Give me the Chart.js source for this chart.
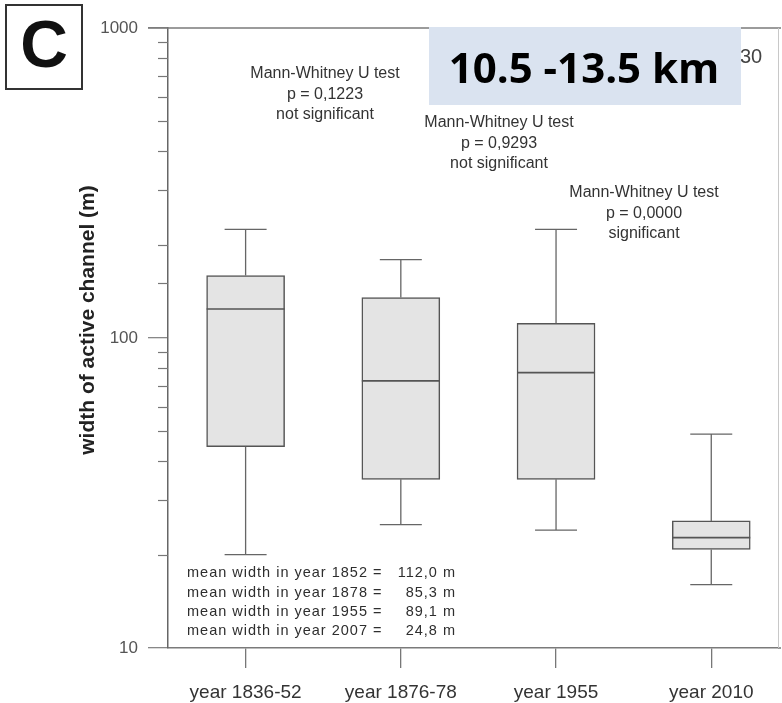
<!DOCTYPE html>
<html>
<head>
<meta charset="utf-8">
<script src="https://cdn.jsdelivr.net/npm/chart.js@4.4.1/dist/chart.umd.min.js"></script>
<style>
  html, body { margin: 0; padding: 0; background: #ffffff; }
  #wrap { width: 782px; height: 703px; }
</style>
</head>
<body>
<div id="wrap"><canvas id="c" width="782" height="703"></canvas></div>
<script>
// ---- data ----
const categories = ['year 1836-52', 'year 1876-78', 'year 1955', 'year 2010'];
const whiskerLow  = [20, 25, 24, 16];
const q1          = [44.6, 35, 35, 20.8];
const median      = [124, 72.7, 77.3, 22.7];
const q3          = [159, 135, 111.5, 25.7];
const whiskerHigh = [224, 179, 224, 49];
const yTickLabels = [10, 100, 1000];

const testLines = [
  ['Mann-Whitney U test', 'p = 0,1223', 'not significant'],
  ['Mann-Whitney U test', 'p = 0,9293', 'not significant'],
  ['Mann-Whitney U test', 'p = 0,0000', 'significant']
];
const meanLabels = ['mean width in year 1852 =', 'mean width in year 1878 =', 'mean width in year 1955 =', 'mean width in year 2007 ='];
const meanValues = ['112,0 m', '85,3 m', '89,1 m', '24,8 m'];
const panelLetter = 'C';
const rangeLabel = '10.5 -13.5 km';
const hiddenLabel = '30';
const yTitle = 'width of active channel (m)';

const FONT = '"Liberation Sans", Arial, sans-serif';

const boxPlugin = {
  id: 'boxExtras',
  afterDatasetsDraw(chart) {
    const ctx = chart.ctx, x = chart.scales.x, y = chart.scales.y;
    ctx.save();
    // minor ticks on y-axis
    ctx.strokeStyle = '#777';
    ctx.lineWidth = 1.2;
    y.ticks.forEach(t => {
      if (yTickLabels.includes(t.value)) return;
      const py = Math.round(y.getPixelForValue(t.value)) + 0.5;
      ctx.beginPath(); ctx.moveTo(x.left - 10, py); ctx.lineTo(x.left, py); ctx.stroke();
    });
    // frame lines
    ctx.strokeStyle = '#7a7a7a';
    ctx.lineWidth = 1.5;
    ctx.beginPath(); ctx.moveTo(x.left - 20, chart.chartArea.top); ctx.lineTo(781, chart.chartArea.top); ctx.stroke();
    ctx.beginPath(); ctx.moveTo(x.right, chart.chartArea.bottom); ctx.lineTo(781, chart.chartArea.bottom); ctx.stroke();
    ctx.strokeStyle = '#c8c8c8';
    ctx.lineWidth = 1;
    ctx.beginPath(); ctx.moveTo(x.right + 0.5, chart.chartArea.top); ctx.lineTo(x.right + 0.5, chart.chartArea.bottom); ctx.stroke();

    // whiskers and medians
    const capHalf = 21, boxHalf = 39;
    categories.forEach((c, i) => {
      const xc = x.getPixelForValue(i + 1);
      const yHi = y.getPixelForValue(whiskerHigh[i]);
      const yLo = y.getPixelForValue(whiskerLow[i]);
      const yQ1 = y.getPixelForValue(q1[i]);
      const yQ3 = y.getPixelForValue(q3[i]);
      const yMed = y.getPixelForValue(median[i]);
      ctx.strokeStyle = '#666';
      ctx.lineWidth = 1.3;
      ctx.beginPath();
      ctx.moveTo(xc, yQ3); ctx.lineTo(xc, yHi);
      ctx.moveTo(xc - capHalf, yHi); ctx.lineTo(xc + capHalf, yHi);
      ctx.moveTo(xc, yQ1); ctx.lineTo(xc, yLo);
      ctx.moveTo(xc - capHalf, yLo); ctx.lineTo(xc + capHalf, yLo);
      ctx.stroke();
      ctx.strokeStyle = '#555';
      ctx.lineWidth = 1.6;
      ctx.beginPath();
      ctx.moveTo(xc - boxHalf, yMed); ctx.lineTo(xc + boxHalf, yMed);
      ctx.stroke();
    });
    ctx.restore();
  },
  afterDraw(chart) {
    const ctx = chart.ctx;
    ctx.save();
    // panel letter box
    ctx.strokeStyle = '#333';
    ctx.lineWidth = 2;
    ctx.strokeRect(6, 5, 76, 84);
    ctx.fillStyle = '#111';
    ctx.font = 'bold 66px ' + FONT;
    ctx.textAlign = 'center';
    ctx.textBaseline = 'middle';
    ctx.fillText(panelLetter, 44, 49);

    // test annotations
    ctx.fillStyle = '#333';
    ctx.font = '16px ' + FONT;
    const ax = [325, 499, 644], ay = [74, 123, 193];
    testLines.forEach((lines, k) => {
      lines.forEach((s, j) => ctx.fillText(s, ax[k], ay[k] + j * 20.5));
    });

    // partially hidden label
    ctx.textAlign = 'left';
    ctx.fillStyle = '#444';
    ctx.font = '20px ' + FONT;
    ctx.fillText(hiddenLabel, 740, 57);

    // range box
    ctx.fillStyle = '#dae3f0';
    ctx.fillRect(429, 27, 312, 78);
    ctx.fillStyle = '#000';
    ctx.font = 'bold 42px "Open Sans", Lato, sans-serif';
    ctx.textAlign = 'center';
    ctx.textBaseline = 'alphabetic';
    ctx.fillText(rangeLabel, 584, 83);

    // mean width lines
    ctx.fillStyle = '#2e2e2e';
    ctx.font = '14.5px ' + FONT;
    ctx.textBaseline = 'middle';
    try { ctx.letterSpacing = '1px'; } catch (e) {}
    const my = [573, 593, 612, 631];
    meanLabels.forEach((s, i) => {
      ctx.textAlign = 'left';
      ctx.fillText(s, 187, my[i]);
      ctx.textAlign = 'right';
      ctx.fillText(meanValues[i], 456, my[i]);
    });
    try { ctx.letterSpacing = '0px'; } catch (e) {}

    // y-axis title
    ctx.translate(88, 320);
    ctx.rotate(-Math.PI / 2);
    ctx.fillStyle = '#222';
    ctx.font = 'bold 21px ' + FONT;
    ctx.textAlign = 'center';
    ctx.textBaseline = 'middle';
    ctx.fillText(yTitle, 0, 0);
    ctx.restore();
  }
};

new Chart(document.getElementById('c'), {
  type: 'bar',
  data: {
    datasets: [{
      data: categories.map((c, i) => ({ x: i + 1, y: [q1[i], q3[i]] })),
      backgroundColor: '#e4e4e4',
      borderColor: '#555',
      borderWidth: 1.5,
      borderSkipped: false,
      barThickness: 78
    }]
  },
  options: {
    responsive: false,
    animation: false,
    layout: { padding: { top: 28, right: 4, left: 0, bottom: 0 } },
    plugins: { legend: { display: false }, tooltip: { enabled: false } },
    scales: {
      x: {
        type: 'linear',
        min: 0.5,
        max: 4.43,
        offset: false,
        afterBuildTicks: s => { s.ticks = categories.map((c, i) => ({ value: i + 1 })); },
        afterFit: s => { s.height = 55; },
        grid: { drawOnChartArea: false, drawTicks: true, tickLength: 20, color: '#777', lineWidth: 1.3, offset: false },
        border: { display: true, color: '#7a7a7a', width: 1.5 },
        ticks: {
          callback: v => categories[v - 1],
          font: { family: FONT, size: 19 },
          color: '#333',
          padding: 13,
          maxRotation: 0,
          autoSkip: false
        }
      },
      y: {
        type: 'logarithmic',
        min: 10,
        max: 1000,
        afterFit: s => { s.width = 168; },
        grid: {
          drawOnChartArea: false,
          drawTicks: true,
          tickLength: 20,
          lineWidth: 1.3,
          tickColor: c => yTickLabels.includes(c.tick && c.tick.value) ? '#888' : 'rgba(0,0,0,0)'
        },
        border: { display: true, color: '#666', width: 1.5 },
        ticks: {
          autoSkip: false,
          callback: v => yTickLabels.includes(v) ? String(v) : '',
          font: { family: FONT, size: 17 },
          color: '#555',
          padding: 10
        }
      }
    }
  },
  plugins: [boxPlugin]
});
</script>
</body>
</html>
